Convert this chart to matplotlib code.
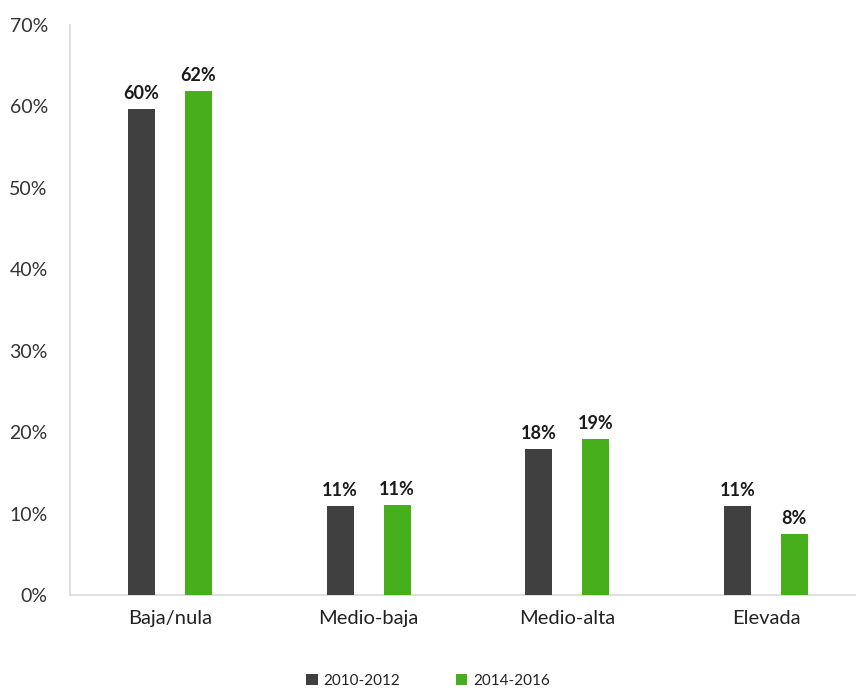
import matplotlib.pyplot as plt
import numpy as np

# Niveles y porcentajes por periodo
categorias = ['Baja/nula', 'Medio-baja', 'Medio-alta', 'Elevada']
series = ['2010-2012', '2014-2016']
valores_2010 = [59.7, 10.9, 17.9, 10.9]
valores_2014 = [61.9, 11.0, 19.1, 7.5]
colores = ['#404040', '#48AF1C']

plt.rcParams['font.family'] = ['Lato', 'DejaVu Sans']

fig = plt.figure(figsize=(8.56, 6.91), dpi=100)
ax = fig.add_axes([70 / 856, 1 - 595 / 691, 786 / 856, 570 / 691])

x = np.arange(len(categorias))
ancho = 0.136
desplaz = 0.143

for vals, col, off, nombre in [(valores_2010, colores[0], -desplaz, series[0]),
                               (valores_2014, colores[1], desplaz, series[1])]:
    barras = ax.bar(x + off, vals, width=ancho, color=col, label=nombre, zorder=3)
    for b, v in zip(barras, vals):
        ax.text(b.get_x() + b.get_width() / 2, v + 0.9, f'{v:.0f}%',
                ha='center', va='bottom', fontsize=13, fontweight='bold', color='#1a1a1a')

ax.set_xlim(-0.503, 3.453)
ax.set_ylim(0, 70)
ax.set_yticks(np.arange(0, 71, 10))
ax.set_yticklabels([f'{t}%' for t in range(0, 71, 10)])
ax.set_xticks(x)
ax.set_xticklabels(categorias)

ax.tick_params(axis='y', length=0, pad=16, labelsize=14, labelcolor='#333333')
ax.tick_params(axis='x', length=0, pad=11, labelsize=14.5, labelcolor='#222222')

for s in ['top', 'right']:
    ax.spines[s].set_visible(False)
for s in ['left', 'bottom']:
    ax.spines[s].set_color('#d9d9d9')
    ax.spines[s].set_linewidth(1.2)

fig.legend(loc='center', bbox_to_anchor=(0.5, 1 - 681 / 691), ncol=2, frameon=False,
           fontsize=11, handlelength=0.75, handleheight=0.75, columnspacing=3.6,
           handletextpad=0.4, labelcolor='#222222', borderpad=0.1)

fig.savefig('out.png', dpi=100)
